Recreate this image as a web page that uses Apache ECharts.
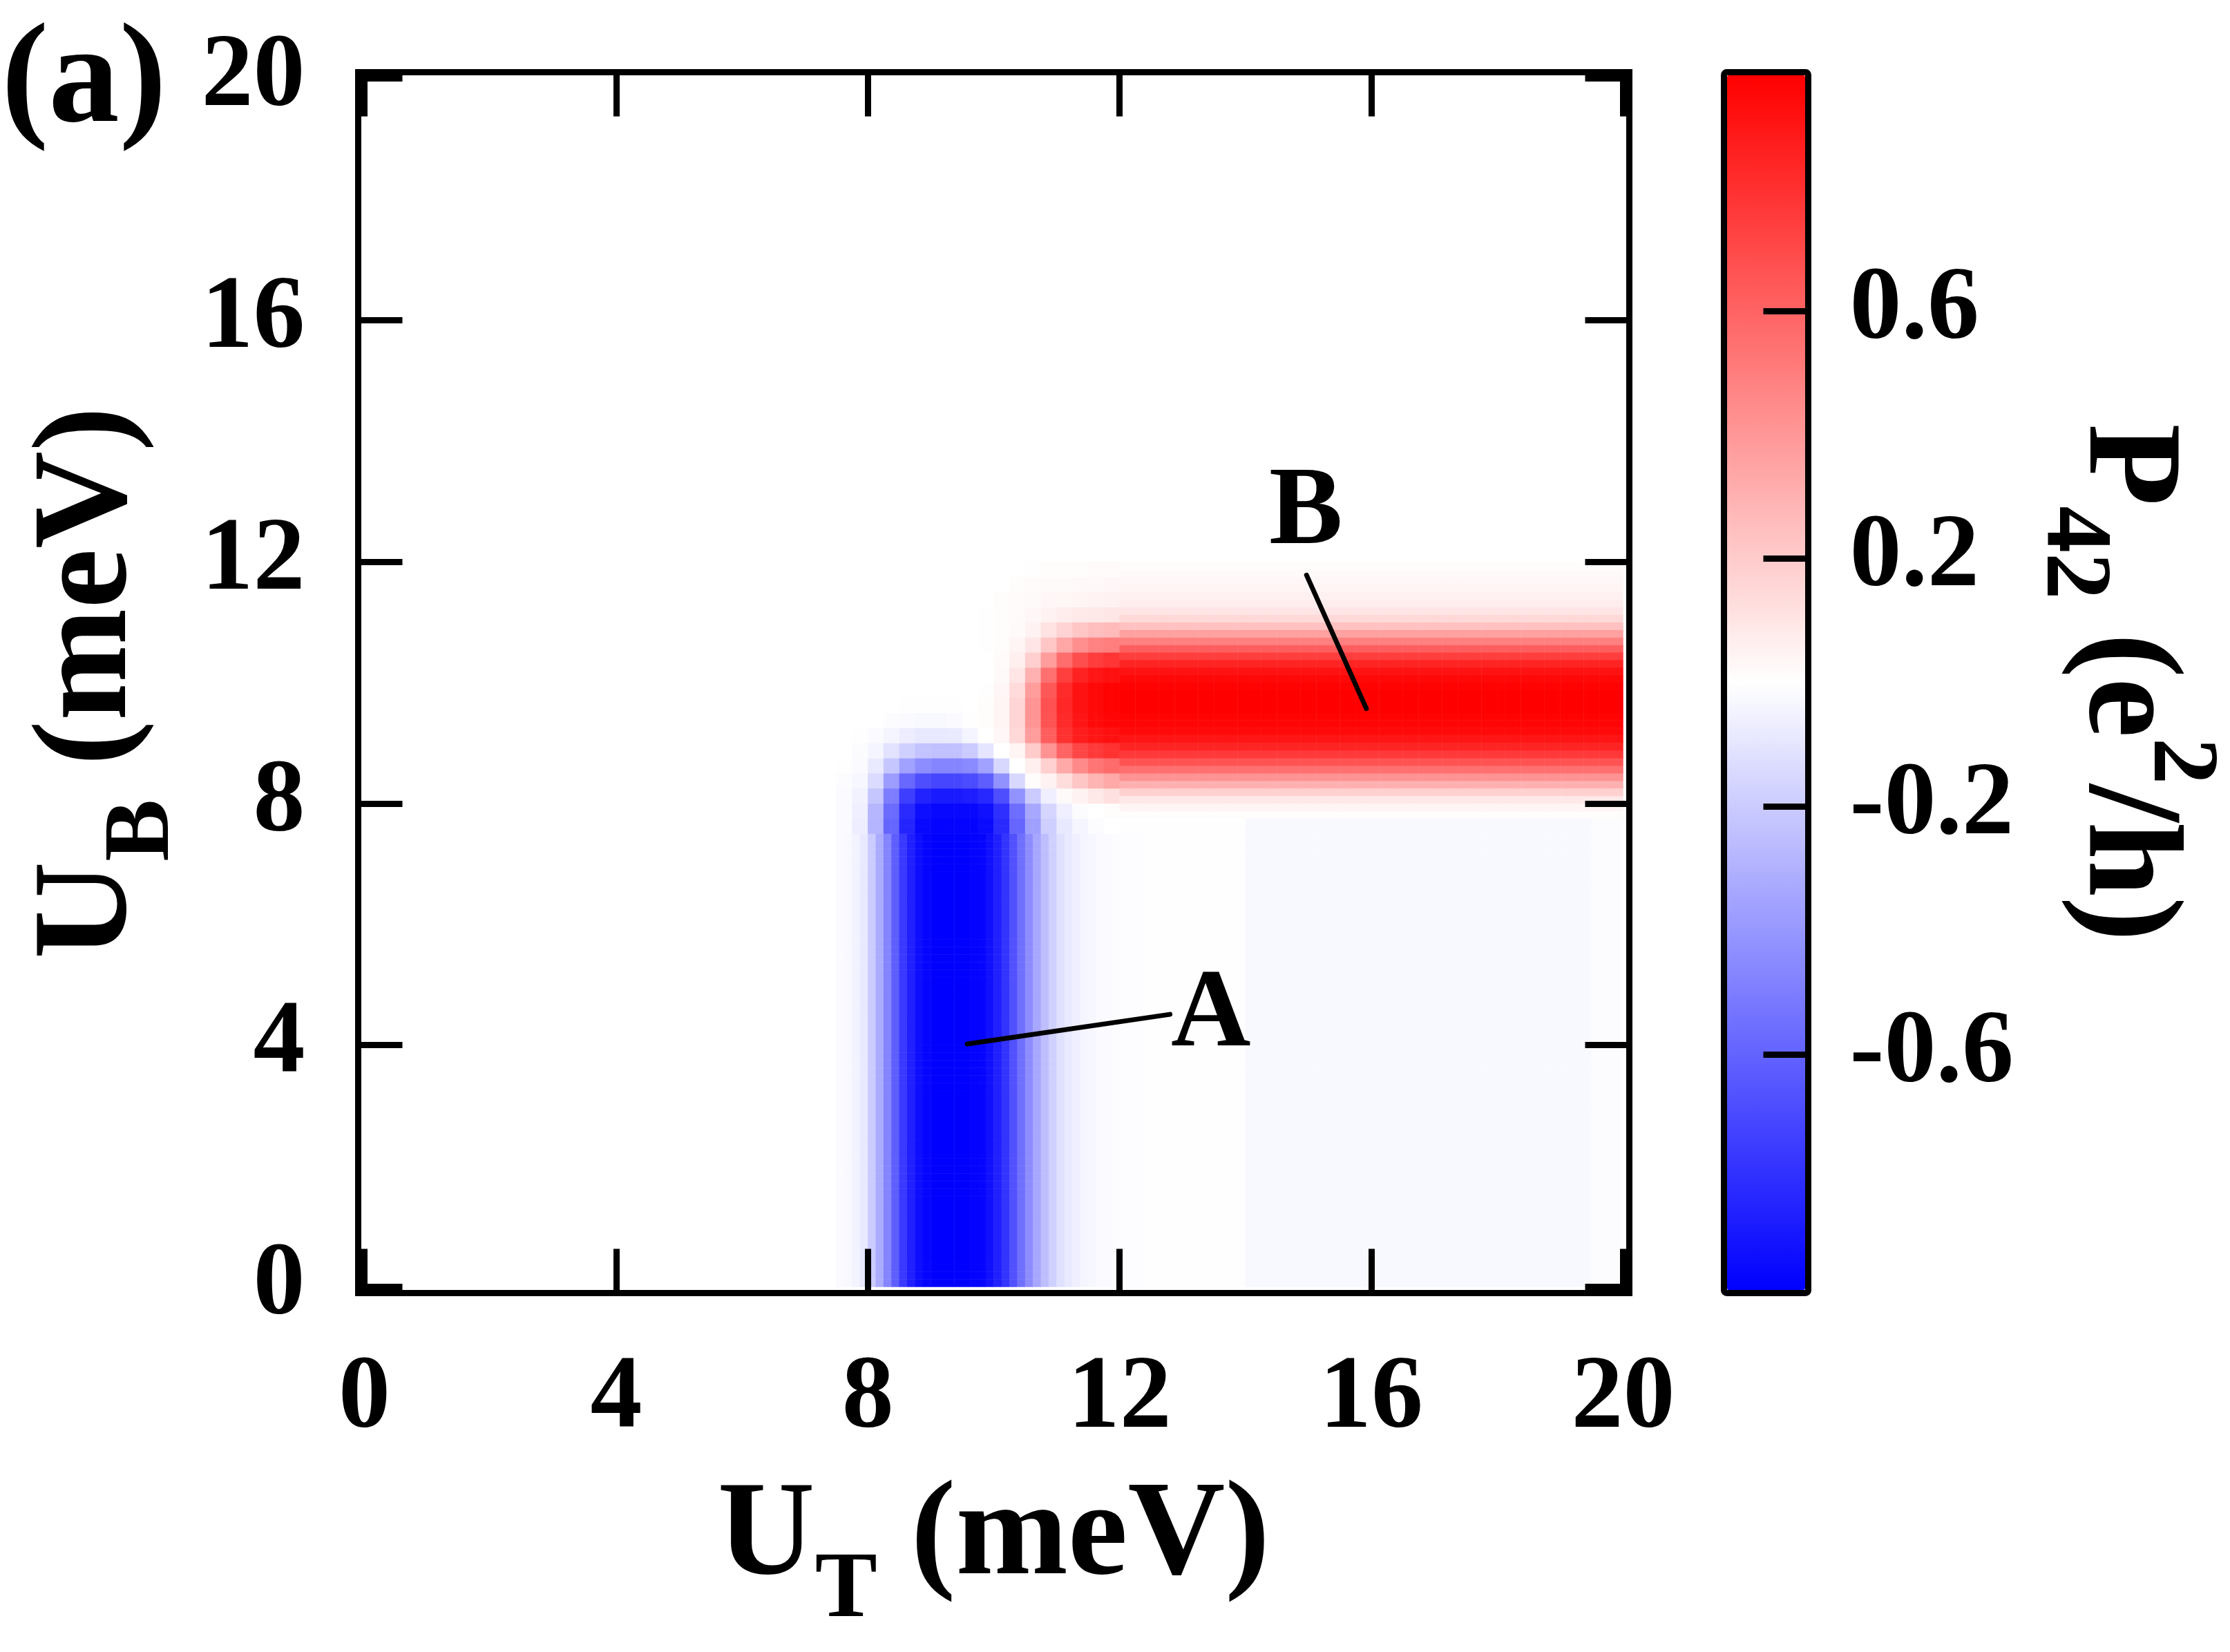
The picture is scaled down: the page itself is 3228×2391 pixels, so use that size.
<!DOCTYPE html>
<html>
<head>
<meta charset="utf-8">
<title>P42 map</title>
<script src="https://cdn.jsdelivr.net/npm/echarts@6/dist/echarts.min.js"></script>
<style>
    html, body { margin: 0; padding: 0; background: #fff; }
    #chart { width: 3228px; height: 2391px; }
</style>
</head>
<body>
<div id="chart"></div>
<script>
// map is stored on a 0.125 meV grid, 160 x 160 cells over 0..20 meV
var STEP = 0.125;
var N = 160;

var xTicks = [0, 4, 8, 12, 16, 20];
var yTicks = [0, 4, 8, 12, 16, 20];
var barTicks = [-0.6, -0.2, 0.2, 0.6];
var barMin = -0.98;
var barMax = 0.98;

// stripe A: profile across U_T (7.5625 .. 12.4375, step 0.125) for U_B below 7.5
var blueRow = [
    -0.015, -0.025, -0.045, -0.09, -0.2, -0.32, -0.47, -0.62, -0.76, -0.86,
    -0.93, -0.96, -0.98, -0.98, -0.98, -0.98, -0.98, -0.97, -0.96, -0.92,
    -0.86, -0.78, -0.67, -0.55, -0.44, -0.34, -0.25, -0.18, -0.12, -0.085,
    -0.06, -0.04, -0.03, -0.02, -0.015, -0.01, -0.008, -0.007, -0.006, -0.005
];

// stripe B: profile across U_B (7.5625 .. 11.9375, step 0.125) for U_T above 12
var redColumn = [
    -0.005, 0, 0.01, 0.04, 0.09, 0.18, 0.3, 0.42, 0.55, 0.66,
    0.76, 0.84, 0.9, 0.94, 0.96, 0.97, 0.98, 0.98, 0.98, 0.97,
    0.95, 0.91, 0.84, 0.74, 0.62, 0.49, 0.36, 0.24, 0.15, 0.1,
    0.07, 0.055, 0.04, 0.03, 0.02, 0.012
];

// corner where the stripes meet, read at 0.25 meV:
// rows U_B 7.625 .. 11.875, columns U_T 7.625 .. 11.875
var junction = [
    [-0.02, -0.07, -0.29, -0.59, -0.84, -0.95, -0.97, -0.97, -0.97, -0.94, -0.82, -0.59, -0.37, -0.19, -0.09, -0.04, -0.01, 0],
    [-0.02, -0.06, -0.28, -0.57, -0.82, -0.93, -0.95, -0.95, -0.95, -0.92, -0.8, -0.56, -0.34, -0.16, -0.06, -0.01, 0, 0.01],
    [-0.015, -0.05, -0.22, -0.5, -0.74, -0.85, -0.88, -0.88, -0.87, -0.83, -0.68, -0.42, -0.2, -0.06, 0.02, 0.05, 0.09, 0.12],
    [-0.01, -0.03, -0.14, -0.38, -0.58, -0.68, -0.71, -0.71, -0.69, -0.62, -0.42, -0.15, 0.01, 0.05, 0.13, 0.22, 0.29, 0.33],
    [-0.005, -0.02, -0.08, -0.22, -0.36, -0.44, -0.47, -0.47, -0.45, -0.36, -0.15, 0, 0.06, 0.18, 0.33, 0.45, 0.53, 0.57],
    [0, -0.01, -0.04, -0.11, -0.18, -0.23, -0.24, -0.24, -0.2, -0.1, 0, 0.04, 0.2, 0.42, 0.6, 0.71, 0.76, 0.79],
    [0, -0.005, -0.015, -0.04, -0.07, -0.09, -0.09, -0.08, -0.04, 0, 0.03, 0.15, 0.38, 0.62, 0.79, 0.87, 0.9, 0.92],
    [0, 0, 0, -0.01, -0.02, -0.025, -0.025, -0.02, -0.005, 0.01, 0.04, 0.16, 0.41, 0.66, 0.82, 0.9, 0.94, 0.96],
    [0, 0, 0, 0, -0.005, -0.005, -0.005, -0.005, 0, 0.01, 0.04, 0.16, 0.41, 0.67, 0.83, 0.91, 0.95, 0.97],
    [0, 0, 0, 0, 0, 0, 0, 0, 0, 0.005, 0.03, 0.14, 0.38, 0.64, 0.82, 0.91, 0.95, 0.97],
    [0, 0, 0, 0, 0, 0, 0, 0, 0, 0, 0.02, 0.1, 0.3, 0.55, 0.74, 0.85, 0.9, 0.92],
    [0, 0, 0, 0, 0, 0, 0, 0, 0, 0, 0.015, 0.06, 0.19, 0.38, 0.56, 0.68, 0.75, 0.78],
    [0, 0, 0, 0, 0, 0, 0, 0, 0, 0.005, 0.01, 0.04, 0.1, 0.22, 0.34, 0.43, 0.48, 0.5],
    [0, 0, 0, 0, 0, 0, 0, 0, 0, 0.005, 0.01, 0.02, 0.05, 0.11, 0.17, 0.22, 0.25, 0.27],
    [0, 0, 0, 0, 0, 0, 0, 0, 0, 0.005, 0.01, 0.015, 0.03, 0.05, 0.07, 0.085, 0.09, 0.095],
    [0, 0, 0, 0, 0, 0, 0, 0, 0, 0, 0.01, 0.015, 0.02, 0.03, 0.035, 0.04, 0.045, 0.05],
    [0, 0, 0, 0, 0, 0, 0, 0, 0, 0, 0, 0.01, 0.015, 0.02, 0.02, 0.025, 0.025, 0.03],
    [0, 0, 0, 0, 0, 0, 0, 0, 0, 0, 0, 0, 0.005, 0.01, 0.01, 0.01, 0.015, 0.015]
];

var nearWhite = -0.005;     // U_T 12.5 .. 14 under stripe B
var lavender = -0.028;      // U_T 14 .. 19.5, U_B below 7.75
var lavenderEdge = -0.012;  // U_T 19.5 .. 20

var pointerA = [[9.58, 4.02], [12.80, 4.51]];
var pointerB = [[15.92, 9.57], [14.97, 11.78]];
var letters = [[13.45, 4.47, 'A'], [14.96, 12.78, 'B']];

var xCells = [], yCells = [];
for (var k = 0; k < N; k++) {
    xCells.push(((k + 0.5) * STEP).toFixed(4));
    yCells.push(((k + 0.5) * STEP).toFixed(4));
}

// assemble the cell table from the pieces above
var cells = [];
for (var j = 0; j < N; j++) {
    for (var i = 0; i < N; i++) {
        var v = 0;
        if (j < 60) {               // U_B below 7.5
            if (i >= 60 && i < 100) v = blueRow[i - 60];
            else if (i >= 100 && i < 112) v = nearWhite;
            else if (i >= 112 && i < 156) v = lavender;
            else if (i >= 156) v = lavenderEdge;
        } else if (j < 96) {        // U_B 7.5 .. 12
            if (i >= 60 && i < 96) v = junction[(j - 60) >> 1][(i - 60) >> 1];
            else if (i >= 96) v = redColumn[j - 60];
            if (j < 62 && i >= 112) v = i < 156 ? lavender : lavenderEdge;
        }
        cells.push([i, j, v]);
    }
}

var FONT = 'Liberation Serif';
var tickStyle = { color: '#000', width: 9 };
var labelStyle = { fontFamily: FONT, fontWeight: 'bold', fontSize: 150, color: '#000' };
var richName = {
    m: { fontFamily: FONT, fontWeight: 'bold', fontSize: 195, color: '#000', lineHeight: 290 },
    s: { fontFamily: FONT, fontWeight: 'bold', fontSize: 135, color: '#000', lineHeight: 135, verticalAlign: 'bottom' },
    p: { fontFamily: FONT, fontWeight: 'bold', fontSize: 135, color: '#000', lineHeight: 135, verticalAlign: 'top' }
};

var chart = echarts.init(document.getElementById('chart'), null, { renderer: 'canvas' });

var plotBox = { left: 527.5, top: 113.5, width: 1822, height: 1749, outerBoundsMode: 'none' };

var option = {
    animation: false,
    backgroundColor: '#fff',
    grid: [
        plotBox,
        Object.assign({}, plotBox),
        { left: 2500, top: 109, width: 113, height: 1758, outerBoundsMode: 'none' }
    ],
    xAxis: [
        { gridIndex: 0, type: 'category', data: xCells, show: false },
        {
            gridIndex: 1, type: 'value', min: 0, max: 20, position: 'bottom', offset: 9, z: 10,
            axisLine: { show: false, onZero: false },
            axisTick: { show: true, inside: true, length: 64, lineStyle: tickStyle, customValues: xTicks },
            axisLabel: Object.assign({ margin: 80, customValues: xTicks }, labelStyle),
            splitLine: { show: false },
            name: '{m|U}{s|T}{m| (meV)}', nameLocation: 'middle', nameGap: 210, nameMoveOverlap: false,
            nameTextStyle: { rich: richName }
        },
        {
            gridIndex: 1, type: 'value', min: 0, max: 20, position: 'top', offset: 9, z: 10,
            axisLine: { show: false, onZero: false },
            axisTick: { show: true, inside: true, length: 64, lineStyle: tickStyle, customValues: xTicks },
            axisLabel: { show: false },
            splitLine: { show: false }
        },
        { gridIndex: 2, type: 'value', min: 0, max: 1, show: false }
    ],
    yAxis: [
        { gridIndex: 0, type: 'category', data: yCells, show: false },
        {
            gridIndex: 1, type: 'value', min: 0, max: 20, position: 'left', offset: 9, z: 10,
            axisLine: { show: false, onZero: false },
            axisTick: { show: true, inside: true, length: 64, lineStyle: tickStyle, customValues: yTicks },
            axisLabel: Object.assign({ margin: 77, customValues: yTicks }, labelStyle),
            splitLine: { show: false },
            name: '{m|U}{s|B}{m| (meV)}', nameLocation: 'middle', nameGap: 243, nameMoveOverlap: false,
            nameTextStyle: { rich: richName }
        },
        {
            gridIndex: 1, type: 'value', min: 0, max: 20, position: 'right', offset: 9, z: 10,
            axisLine: { show: false, onZero: false },
            axisTick: { show: true, inside: true, length: 64, lineStyle: tickStyle, customValues: yTicks },
            axisLabel: { show: false },
            splitLine: { show: false }
        },
        {
            gridIndex: 2, type: 'value', min: barMin, max: barMax, position: 'right', offset: 4.5, z: 10,
            axisLine: { show: false, onZero: false },
            axisTick: { show: true, inside: true, length: 65, lineStyle: tickStyle, customValues: barTicks },
            axisLabel: Object.assign({ margin: 60, customValues: barTicks }, labelStyle),
            splitLine: { show: false },
            name: '{m|P}{s|42}{m| (e}{p|2}{m|/h)}', nameLocation: 'middle', nameRotate: -90,
            nameGap: 314, nameMoveOverlap: false,
            nameTextStyle: { rich: richName }
        }
    ],
    visualMap: {
        type: 'continuous',
        min: barMin, max: barMax,
        seriesIndex: 0, dimension: 2,
        calculable: false, hoverLink: false,
        orient: 'vertical',
        left: 2500, top: 109,
        itemWidth: 113, itemHeight: 1758,
        padding: 0,
        inRange: { color: ['#0000ff', '#ffffff', '#ff0000'] }
    },
    graphic: {
        elements: [
            {
                type: 'rect', z: 100, silent: true,
                shape: { x: 518.5, y: 104.5, width: 1840, height: 1767 },
                style: { fill: 'none', stroke: '#000', lineWidth: 9 }
            },
            {
                type: 'rect', z: 100, silent: true,
                shape: { x: 2495.5, y: 104.5, width: 122, height: 1767, r: 4 },
                style: { fill: 'none', stroke: '#000', lineWidth: 9 }
            },
            {
                type: 'text', z: 100, silent: true,
                style: {
                    text: '(a)', x: 2, y: 122, fontSize: 205, fontWeight: 'bold', fontFamily: FONT,
                    fill: '#000', align: 'left', verticalAlign: 'middle'
                }
            }
        ]
    },
    series: [
        {
            type: 'heatmap', xAxisIndex: 0, yAxisIndex: 0,
            data: cells, progressive: 0, silent: true,
            itemStyle: { borderWidth: 0 },
            emphasis: { disabled: true }
        },
        {
            type: 'line', xAxisIndex: 1, yAxisIndex: 1, data: pointerA, z: 5,
            symbol: 'none', silent: true,
            lineStyle: { color: '#000', width: 7, cap: 'round' }
        },
        {
            type: 'line', xAxisIndex: 1, yAxisIndex: 1, data: pointerB, z: 5,
            symbol: 'none', silent: true,
            lineStyle: { color: '#000', width: 7, cap: 'round' }
        },
        {
            type: 'scatter', xAxisIndex: 1, yAxisIndex: 1, data: letters, z: 5,
            symbolSize: 0, silent: true,
            itemStyle: { opacity: 1, color: '#000' },
            label: {
                show: true, position: 'inside', opacity: 1,
                formatter: function (p) { return p.data[2]; },
                fontFamily: FONT, fontWeight: 'bold', fontSize: 160, color: '#000',
                textBorderWidth: 0
            }
        }
    ]
};

chart.setOption(option);
</script>
</body>
</html>
